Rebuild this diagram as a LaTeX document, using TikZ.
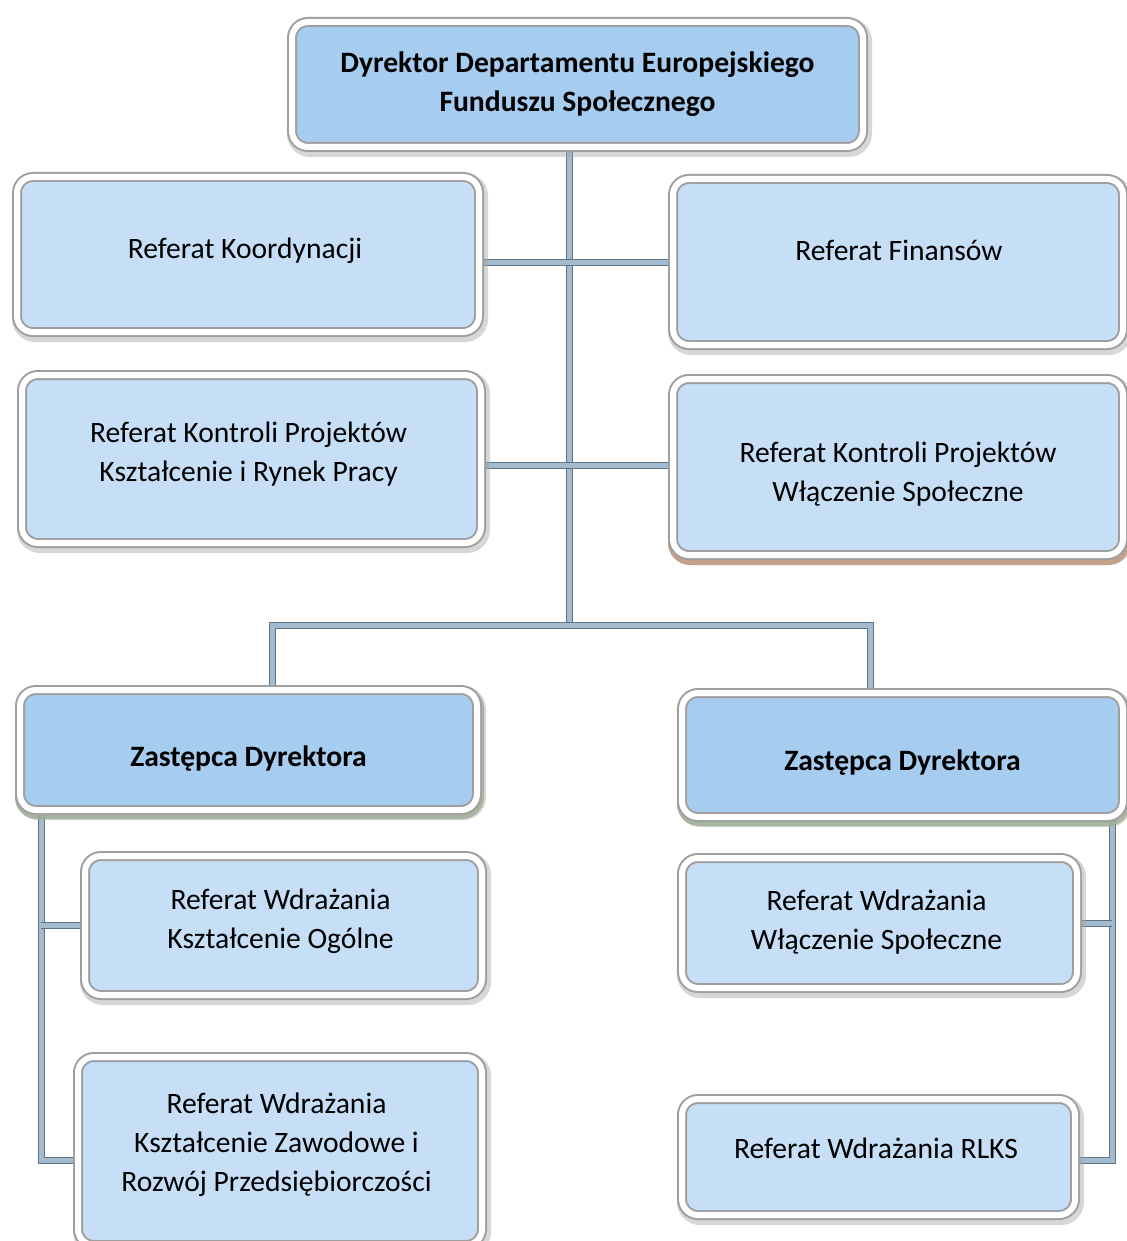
\documentclass[tikz,border=0pt]{standalone}
\usepackage{fontspec}
\setmainfont{Carlito}
\usetikzlibrary{shadows}
\pgfdeclarelayer{background}
\pgfsetlayers{background,main}
\definecolor{refblue}{HTML}{C6DFF6}
\definecolor{headblue}{HTML}{A6CCF0}
\definecolor{connfill}{HTML}{A3BBCE}
\definecolor{connedge}{HTML}{5F7486}
\definecolor{tanshade}{HTML}{C39C82}
\definecolor{greenshade}{HTML}{9DAE92}
\tikzset{
	unit/.style={rounded corners=16pt, draw=gray!75, line width=2pt, double=white, double distance=6pt,
		fill=refblue, inner sep=0pt,
		drop shadow={shadow xshift=2pt, shadow yshift=-3pt, fill=black!45, draw=black!35, line width=14pt, opacity=.45}},
	head/.style={unit, fill=headblue},
	txt/.style={align=center, inner sep=0pt, font=\fontsize{29.6}{39}\selectfont},
	txtb/.style={txt, font=\fontsize{29.6}{39}\selectfont\bfseries},
	conn/.style={draw=connedge, line width=1pt, double=connfill, double distance=5pt},
}

\begin{document}
\begin{tikzpicture}[x=1pt,y=-1pt]
	\useasboundingbox (0,0) rectangle (1126,1241);

	\node[head, minimum width=571pt, minimum height=125pt,
		label={[txtb]center:Dyrektor Departamentu Europejskiego\\Funduszu Społecznego}] (dyr) at (577.5,84.5){};

	\node[unit, minimum width=462pt, minimum height=155pt,
		label={[txt, xshift=-3, yshift=4]center:Referat Koordynacji}] (koord) at (248,254.5){};
	\node[unit, minimum width=450pt, minimum height=166pt,
		label={[txt, xshift=1, yshift=12]center:Referat Finansów}] (fin) at (898,262){};
	\node[unit, minimum width=459pt, minimum height=168pt,
		label={[txt, xshift=-3, yshift=5]center:Referat Kontroli Projektów\\Kształcenie i Rynek Pracy}] (kkrp) at (251.5,459){};
	\node[unit, minimum width=450pt, minimum height=176pt,
		drop shadow={shadow xshift=1pt, shadow yshift=-4pt, fill=tanshade, draw=tanshade, line width=12pt, opacity=.9},
		label={[txt, yshift=-7]center:Referat Kontroli Projektów\\Włączenie Społeczne}] (kws) at (898,467){};

	\node[head, minimum width=457pt, minimum height=120pt,
		drop shadow={shadow xshift=1pt, shadow yshift=-3pt, fill=greenshade, draw=greenshade, line width=12pt, opacity=.8},
		label={[txtb, yshift=-9]center:Zastępca Dyrektora}] (zl) at (248.5,750){};
	\node[head, minimum width=441pt, minimum height=124pt,
		drop shadow={shadow xshift=1pt, shadow yshift=-3pt, fill=greenshade, draw=greenshade, line width=12pt, opacity=.8},
		label={[txtb, yshift=-8]center:Zastępca Dyrektora}] (zr) at (902.5,755){};

	\node[unit, minimum width=397pt, minimum height=139pt,
		label={[txt, xshift=-3, yshift=4.5]center:Referat Wdrażania\\Kształcenie Ogólne}] (wko) at (283.5,925.5){};
	\node[unit, minimum width=404pt, minimum height=188pt,
		label={[txt, xshift=-3.5, yshift=6]center:Referat Wdrażania\\Kształcenie Zawodowe i\\Rozwój Przedsiębiorczości}] (wkz) at (280,1151){};
	\node[unit, minimum width=395pt, minimum height=130pt,
		label={[txt, xshift=-3, yshift=1]center:Referat Wdrażania\\Włączenie Społeczne}] (wws) at (879.5,923){};
	\node[unit, minimum width=393pt, minimum height=116pt,
		label={[txt, xshift=-2.5, yshift=9]center:Referat Wdrażania RLKS}] (rlks) at (878.5,1157){};

	\coordinate (bus) at (569,625);
	\coordinate (busL) at (272,625);
	\coordinate (busR) at (870,625);
	\coordinate (row1) at (569,262);
	\coordinate (row2) at (569,465);
	\coordinate (spineL) at (41,1160);
	\coordinate (spineR) at (1112,1160);

	\begin{pgfonlayer}{background}
		\draw[conn] (dyr.south -| bus) -- (bus);
		\draw[conn] (koord.east |- row1) -- (fin.west |- row1);
		\draw[conn] (kkrp.east |- row2) -- (kws.west |- row2);
		\draw[conn] (zl.north -| busL) -- (busL) -- (busR) -- (zr.north -| busR);
		\draw[conn] (zl.south -| spineL) -- (spineL) -- (wkz.west |- spineL);
		\draw[conn] (wko.west) -- (wko.west -| spineL);
		\draw[conn] (zr.south -| spineR) -- (spineR) -- (rlks.east |- spineR);
		\draw[conn] (wws.east) -- (wws.east -| spineR);
	\end{pgfonlayer}
\end{tikzpicture}
\end{document}
